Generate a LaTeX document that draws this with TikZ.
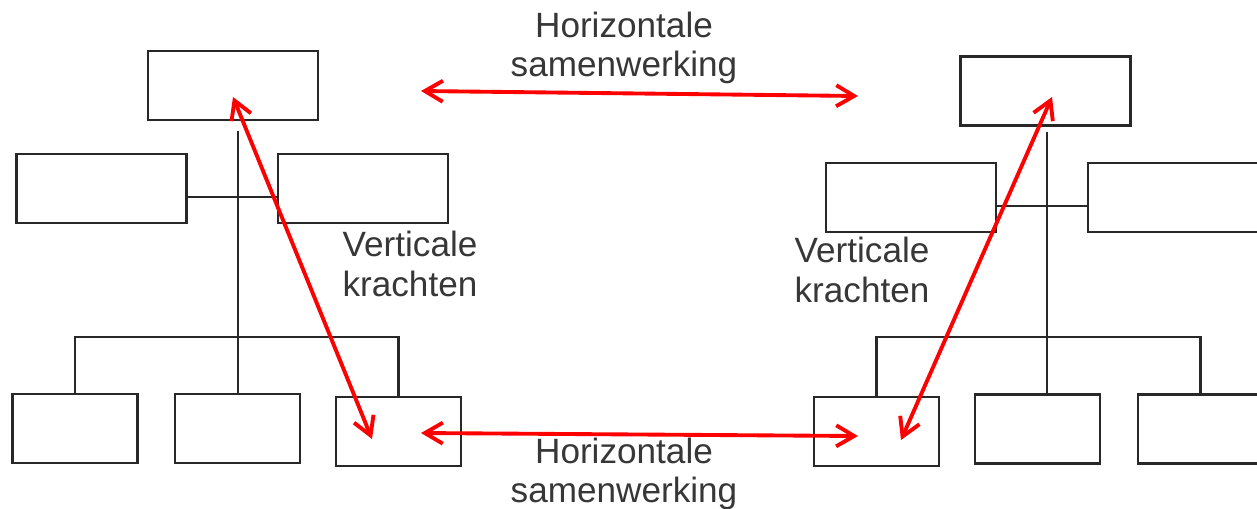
\documentclass[tikz,border=0pt]{standalone}
\usepackage{fontspec}
\setmainfont{Liberation Sans}
\usetikzlibrary{arrows.meta, calc}
\definecolor{lijn}{RGB}{40,40,40}
\definecolor{pijlrood}{RGB}{255,0,0}
\definecolor{tekst}{RGB}{55,55,55}

\begin{document}
\begin{tikzpicture}[x=0.02cm, y=-0.02cm,
        grootvak/.style={draw=lijn, line width=1.6pt, minimum width=3.4cm, minimum height=1.38cm, inner sep=0pt},
        kleinvak/.style={grootvak, minimum width=2.5cm},
        verbinding/.style={draw=lijn, line width=1pt},
        samen/.style={{Straight Barb[length=0.36cm,width=0.42cm]}-{Straight Barb[length=0.36cm,width=0.42cm]}, line width=2.2pt, pijlrood},
        tekstvak/.style={text=tekst, align=center, inner sep=0pt, font=\fontsize{20}{22.5}\selectfont}]
        \useasboundingbox (0,0) rectangle (1257,508);

        % Organisatie links
        \node[grootvak] (ltop) at (233,85.5) {};
        \node[grootvak] (lmidl) at (101.5,188.5) {};
        \node[grootvak] (lmidr) at (363,188.5) {};
        \node[kleinvak] (lb1) at (75,428.5) {};
        \node[kleinvak] (lb2) at (237.5,428.5) {};
        \node[kleinvak] (lb3) at (398.5,431.5) {};

        \coordinate (lstam) at (238,131);
        \coordinate (lmid) at (238,197);
        \coordinate (lbus) at (238,337);
        \draw[verbinding] (lstam) -- (lstam |- lb2.north);
        \draw[verbinding] (lmidl.east |- lmid) -- (lmidr.west |- lmid);
        \draw[verbinding, line width=1.5pt] (lb1.north) -- (lb1.north |- lbus) -- (lb3.north |- lbus) -- (lb3.north);

        % Organisatie rechts
        \node[grootvak] (rtop) at (1045.5,91) {};
        \node[grootvak] (rmidl) at (911,197.5) {};
        \node[grootvak] (rmidr) at (1173,197.5) {};
        \node[kleinvak] (rb1) at (876.5,431.5) {};
        \node[kleinvak] (rb2) at (1037.5,429) {};
        \node[kleinvak] (rb3) at (1200.5,429) {};

        \coordinate (rstam) at (1047,132);
        \coordinate (rmid) at (1047,206);
        \coordinate (rbus) at (1047,337);
        \draw[verbinding] (rstam) -- (rstam |- rb2.north);
        \draw[verbinding] (rmidl.east |- rmid) -- (rmidr.west |- rmid);
        \draw[verbinding, line width=1.5pt] (rb1.north) -- (rb1.north |- rbus) -- (rb3.north |- rbus) -- (rb3.north);

        % Samenwerking en krachten
        \coordinate (hboven1) at (421,91);
        \coordinate (hboven2) at (858,96);
        \coordinate (honder1) at (421,433);
        \coordinate (honder2) at (858,436);
        \coordinate (vlinks1) at (233,97);
        \coordinate (vlinks2) at (372,439);
        \coordinate (vrechts1) at (1052,97);
        \coordinate (vrechts2) at (901,440);
        \draw[samen] (hboven1) -- (hboven2);
        \draw[samen] (honder1) -- (honder2);
        \draw[samen] (vlinks1) -- (vlinks2);
        \draw[samen] (vrechts1) -- (vrechts2);

        % Teksten
        \node[tekstvak] (tboven) at (624,48) {Horizontale\\samenwerking};
        \node[tekstvak] (tonder) at (624,474) {Horizontale\\samenwerking};
        \node[tekstvak] (tlinks) at (410,264) {Verticale\\krachten};
        \node[tekstvak] (trechts) at (862,270) {Verticale\\krachten};
    \end{tikzpicture}
\end{document}
